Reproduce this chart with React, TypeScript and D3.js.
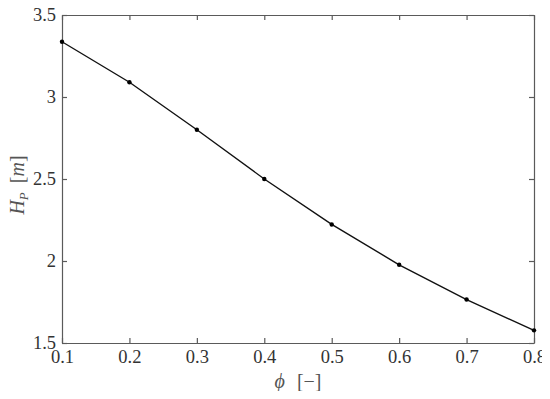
import React, { useRef, useEffect } from "react";
import * as d3 from "d3";

const phi = [0.1, 0.2, 0.3, 0.4, 0.5, 0.6, 0.7, 0.8];
const headP = [3.337, 3.09, 2.8, 2.5, 2.223, 1.977, 1.765, 1.577];
const xTicks = [0.1, 0.2, 0.3, 0.4, 0.5, 0.6, 0.7, 0.8];
const yTicks = [1.5, 2, 2.5, 3, 3.5];

const App = () => {
    const svgRef = useRef<SVGSVGElement>(null);

    useEffect(() => {
        const W = 550;
        const H = 399;
        const margin = { top: 15, right: 16, bottom: 56, left: 62 };
        const width = W - margin.left - margin.right;
        const height = H - margin.top - margin.bottom;
        const axisColor = "#5a5a5a";
        const font = "Liberation Serif";

        const root = d3.select(svgRef.current);
        root.selectAll("*").remove();
        root.attr("width", W).attr("height", H).attr("font-family", font);

        const svg = root.append("g").attr("transform", `translate(${margin.left}, ${margin.top})`);

        const xScale = d3.scaleLinear().domain([0.1, 0.8]).range([0, width]);
        const yScale = d3.scaleLinear().domain([1.5, 3.5]).range([height, 0]);

        // box ticks on all four sides, pointing in
        const fmt = (d: any) => String(d);
        const bottom = svg.append("g").attr("transform", `translate(0, ${height})`)
            .call(d3.axisBottom(xScale).tickValues(xTicks).tickSizeInner(-5).tickSizeOuter(0).tickPadding(6).tickFormat(fmt));
        const top = svg.append("g")
            .call(d3.axisTop(xScale).tickValues(xTicks).tickSizeInner(-5).tickSizeOuter(0).tickFormat(() => ""));
        const left = svg.append("g")
            .call(d3.axisLeft(yScale).tickValues(yTicks).tickSizeInner(-5).tickSizeOuter(0).tickPadding(6).tickFormat(fmt));
        const right = svg.append("g").attr("transform", `translate(${width}, 0)`)
            .call(d3.axisRight(yScale).tickValues(yTicks).tickSizeInner(-5).tickSizeOuter(0).tickFormat(() => ""));

        [bottom, top, left, right].forEach((g) => {
            g.attr("font-family", font).attr("font-size", 18.5);
            g.selectAll("path, line").attr("stroke", axisColor).attr("stroke-width", 1.2);
            g.selectAll("text").attr("fill", "#333");
        });
        bottom.selectAll("text").attr("dy", "0.78em");
        left.selectAll("text").attr("dy", "0.28em");

        const line = d3.line<number>()
            .x((d, i) => xScale(phi[i]))
            .y((d) => yScale(d));

        svg.append("path")
            .datum(headP)
            .attr("d", line)
            .attr("fill", "none")
            .attr("stroke", "#111")
            .attr("stroke-width", 1.4);

        svg.selectAll(".pt")
            .data(headP)
            .enter()
            .append("circle")
            .attr("cx", (d, i) => xScale(phi[i]))
            .attr("cy", (d) => yScale(d))
            .attr("r", 2.2)
            .attr("fill", "#000");

        // x label
        const xl = root.append("text")
            .attr("x", 298)
            .attr("y", 388)
            .attr("text-anchor", "middle")
            .attr("font-size", 20)
            .attr("fill", "#555");
        xl.append("tspan").attr("font-style", "italic").text("\u03d5");
        xl.append("tspan").attr("dx", 12).text("[\u2212]");

        // y label
        const yl = root.append("text")
            .attr("transform", `translate(24, 185) rotate(-90)`)
            .attr("text-anchor", "middle")
            .attr("font-size", 20)
            .attr("fill", "#555");
        yl.append("tspan").attr("font-style", "italic").text("H");
        yl.append("tspan").attr("font-style", "italic").attr("font-size", 13).attr("dy", 4).text("P");
        yl.append("tspan").attr("dy", -4).attr("dx", 9).text("[");
        yl.append("tspan").attr("font-style", "italic").text("m");
        yl.append("tspan").text("]");
    }, []);

    return (
        <div style={{ margin: -8 }}>
            <svg ref={svgRef} style={{ display: "block", background: "#fff" }}></svg>
        </div>
    );
};

export default App;
